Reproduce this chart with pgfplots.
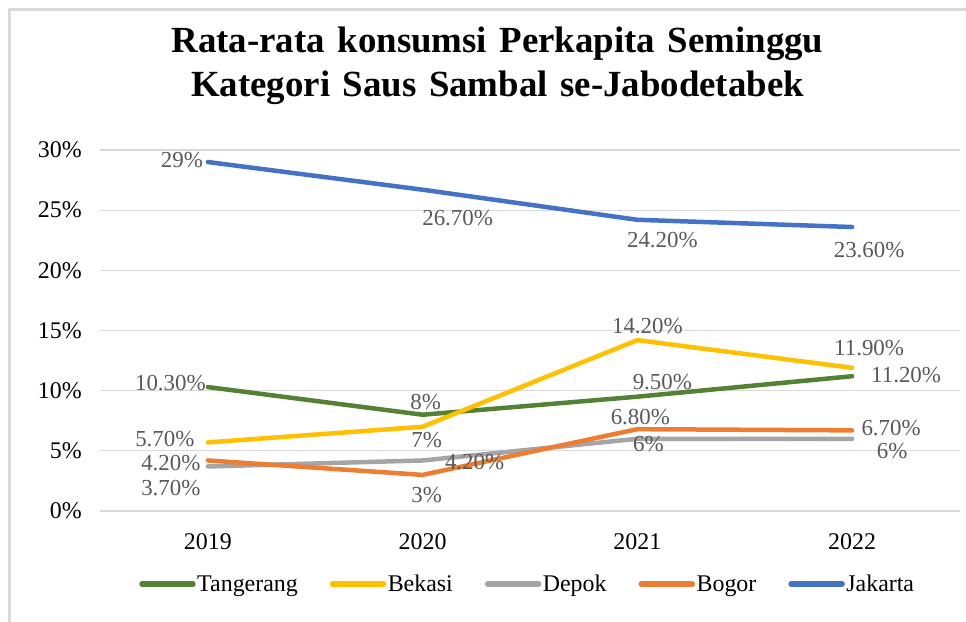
\documentclass[border=0pt]{standalone}
\usepackage{pgfplots}
\pgfplotsset{compat=1.18}
\usepackage{pgfplotstable}
\usepackage{fontspec}
\setmainfont{Liberation Serif}

\definecolor{tang}{HTML}{548235}
\definecolor{bek}{HTML}{FFC000}
\definecolor{dep}{HTML}{A5A5A5}
\definecolor{bog}{HTML}{ED7D31}
\definecolor{jak}{HTML}{4472C4}
\definecolor{lblgray}{HTML}{595959}
\definecolor{gridgray}{HTML}{D9D9D9}

\pgfplotstableread{
x y lab dx dy
0 10.3 10.30 -37.5 4
1 8 8 3 13
2 9.5 9.50 25 15
3 11.2 11.20 54 1
}\tangerang
\pgfplotstableread{
x y lab dx dy
0 5.7 5.70 -43 3
1 7 7 4 -13
2 14.2 14.20 10 14
3 11.9 11.90 17 20
}\bekasi
\pgfplotstableread{
x y lab dx dy
0 3.7 3.70 -37 -21.5
1 4.2 4.20 52 -1.5
2 6 6 11 -5
3 6 6 40 -12.5
}\depok
\pgfplotstableread{
x y lab dx dy
0 4.2 4.20 -37 -2.5
1 3 3 4 -20
2 6.8 6.80 3 12
3 6.7 6.70 39 2
}\bogor
\pgfplotstableread{
x y lab dx dy
0 29 29 -26 2
1 26.7 26.70 35 -28
2 24.2 24.20 25 -20
3 23.6 23.60 17 -23
}\jakarta

\begin{document}
\begin{tikzpicture}
\path[use as bounding box] (-100.5bp,-111bp) rectangle (865.5bp,511bp);
\draw[color=gridgray, line width=2.5bp] (-91bp,-130bp) -- (-91bp,501.5bp) -- (880bp,501.5bp);
\begin{axis}[
  at={(0,0)}, anchor=south west,
  scale only axis, width=859bp, height=361bp,
  xmin=-0.5, xmax=3.5, ymin=0, ymax=30,
  clip=false,
  xtick={0,1,2,3}, xticklabels={2019,2020,2021,2022},
  ytick={0,5,10,15,20,25,30},
  yticklabels={0\%,5\%,10\%,15\%,20\%,25\%,30\%},
  axis line style={draw=none},
  major tick length=0pt,
  ymajorgrids,
  grid style={color=gridgray, line width=1.3bp},
  tick label style={font=\fontsize{24}{28}\selectfont, text=black},
  xticklabel style={anchor=north, inner sep=0pt, yshift=-22bp},
  yticklabel style={anchor=east, inner sep=0pt, xshift=-18.5bp},
  title={Rata-rata konsumsi Perkapita Seminggu\\Kategori Saus Sambal se-Jabodetabek},
  title style={at={(rel axis cs:0.4622,1.3241)}, anchor=north, inner sep=0pt,
    align=center, font={\fontsize{37}{44}\selectfont\bfseries\spaceskip=12.5bp plus 2bp minus 2bp\relax}},
  nodes near coords={\pgfplotspointmeta\%},
  point meta=explicit symbolic,
  visualization depends on={\thisrow{dx} \as \lblx},
  visualization depends on={\thisrow{dy} \as \lbly},
  every node near coord/.append style={anchor=center, inner sep=0pt,
    xshift=\lblx bp, yshift=\lbly bp, text=lblgray,
    font=\fontsize{23}{27}\selectfont},
  every axis plot/.append style={line width=4.5bp, line cap=round, line join=round, mark=none},
  legend columns=5,
  legend style={at={(rel axis cs:0.497,-0.2022)}, anchor=center, draw=none,
    font=\fontsize{24}{28}\selectfont, inner sep=0pt,
    nodes={inner sep=1.5bp},
    /tikz/every even column/.append style={column sep=30.5bp}},
  legend cell align=left,
  legend image code/.code={\draw[#1, line width=5.5bp, line cap=round] (2.5bp,0bp) -- (53.5bp,0bp);},
]
\addplot[color=tang] table[x=x, y=y, meta=lab] {\tangerang};
\addlegendentry{Tangerang}
\addplot[color=bek] table[x=x, y=y, meta=lab] {\bekasi};
\addlegendentry{Bekasi}
\addplot[color=dep] table[x=x, y=y, meta=lab] {\depok};
\addlegendentry{Depok}
\addplot[color=bog] table[x=x, y=y, meta=lab] {\bogor};
\addlegendentry{Bogor}
\addplot[color=jak] table[x=x, y=y, meta=lab] {\jakarta};
\addlegendentry{Jakarta}
\end{axis}
\end{tikzpicture}
\end{document}
